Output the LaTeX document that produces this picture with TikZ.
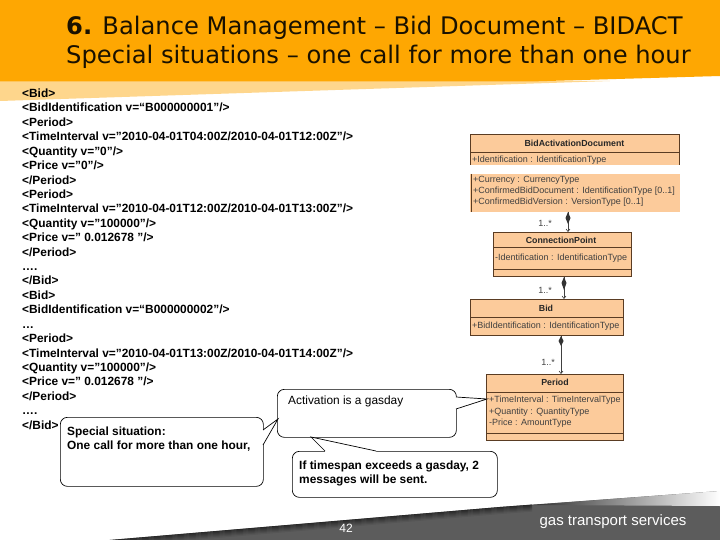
\documentclass[tikz,border=0pt]{standalone}
\usepackage{fontspec}
\usetikzlibrary{arrows.meta}
\setmainfont{Liberation Sans}
\newfontfamily\titlefont{DejaVu Sans}
\definecolor{umlfill}{RGB}{252,203,155}
\definecolor{umlline}{RGB}{90,60,35}
\definecolor{hdr}{RGB}{254,167,2}
\definecolor{hdrlight}{RGB}{254,214,140}
\definecolor{foot}{RGB}{92,92,92}
\tikzset{
  code/.style={anchor=west,inner sep=0pt,font=\fontsize{11.9}{13}\selectfont\bfseries,text=black},
  callout/.style={draw=black,line width=.7pt,fill=white,rounded corners=7pt},
  tailfill/.style={fill=white,draw=none},
  tailline/.style={draw=black,line width=.7pt},
  calltext/.style={anchor=west,inner sep=0pt,font=\fontsize{11.9}{14}\selectfont},
  boldtext/.style={calltext,font=\fontsize{11.9}{14}\selectfont\bfseries},
  umlbox/.style={draw=umlline,fill=umlfill,line width=.6pt,inner sep=0pt,anchor=north west},
  umlsep/.style={draw=umlline,line width=.6pt},
  umltitle/.style={inner sep=0pt,font=\fontsize{8.8}{10}\selectfont\bfseries,text=black!85},
  umlattr/.style={anchor=west,inner sep=0pt,font=\fontsize{9}{10}\selectfont,text=black!75},
  mult/.style={inner sep=0pt,font=\fontsize{9}{10}\selectfont,text=black!75},
  link/.style={draw=black!75,line width=.6pt,-{Straight Barb[length=2.5pt,width=4pt]}},
  diam/.style={fill=black!80,draw=none},
  hdrtext/.style={anchor=west,inner sep=0pt,font=\titlefont\fontsize{24.2}{28}\selectfont,text=black!90!hdr},
}
\begin{document}
\begin{tikzpicture}[x=1pt,y=-1pt]
\useasboundingbox (0,0) rectangle (720,540);
\fill[white] (0,0) rectangle (720,540);
% header
\fill[hdrlight] (0,81) -- (610,81) -- (0,101) -- cycle;
\fill[hdr] (0,0) -- (720,0) -- (720,76) -- (530,81.5) -- (0,81.5) -- cycle;
\node[hdrtext] (t1) at (66,28) {\textbf{6.} Balance Management – Bid Document – BIDACT};
\node[hdrtext] (t2) at (66,57) {Special situations – one call for more than one hour};
% footer
\fill[foot] (110,540) -- (300,524) -- (500,507) -- (720,491) -- (720,540) -- cycle;
\shade[left color=black!50!foot,right color=white] (530,505) -- (720,491) -- (720,506) -- cycle;
\begin{scope}
\clip (0,490) rectangle (720,540);
\foreach \o/\k in {0.5/55,1.5/48,2.5/40,3.5/32,4.5/24,5.5/16,6.5/8}
  {\draw[draw=black!\k!foot,line width=1.05pt] (98,{541+\o}) -- (500,{507+\o}) -- (532,{504.6+\o});}
\end{scope}
\node[inner sep=0pt,font=\fontsize{12}{14}\selectfont,text=white] (pg) at (346,528) {42};
\node[inner sep=0pt,font=\fontsize{15}{17}\selectfont,text=white] (logo) at (613,522) {gas transport services};
% code
\foreach \i/\txt in {
 0/{<Bid>},
 1/{<BidIdentification v=“B000000001”/>},
 2/{<Period>},
 3/{<TimeInterval v=”2010-04-01T04:00Z/2010-04-01T12:00Z”/>},
 4/{<Quantity v=”0”/>},
 5/{<Price v=”0”/>},
 6/{</Period>},
 7/{<Period>},
 8/{<TimeInterval v=”2010-04-01T12:00Z/2010-04-01T13:00Z”/>},
 9/{<Quantity v=”100000”/>},
 10/{<Price v=” 0.012678 ”/>},
 11/{</Period>},
 12/{….},
 13/{</Bid>},
 14/{<Bid>},
 15/{<BidIdentification v=“B000000002”/>},
 16/{…},
 17/{<Period>},
 18/{<TimeInterval v=”2010-04-01T13:00Z/2010-04-01T14:00Z”/>},
 19/{<Quantity v=”100000”/>},
 20/{<Price v=” 0.012678 ”/>},
 21/{</Period>},
 22/{….},
 23/{</Bid>}}
 {\node[code,anchor=base west] (c\i) at (22,{97.5+\i*14.42}) {\txt};}
% uml
\fill[umlfill] (470,134) rectangle (679,165);
\draw[umlline,line width=.6pt] (470,165) -- (470,134) -- (679,134) -- (679,165) (470,152) -- (679,152);
\node[umltitle] (bt) at (574.5,143) {BidActivationDocument};
\node[umlattr] (ba) at (472,160) {+Identification : IdentificationType};
\fill[umlfill] (470,174) rectangle (680,212);
\draw[umlline,line width=.6pt] (471,174) -- (471,212);
\node[umlattr] (a1) at (473,180) {+Currency : CurrencyType};
\node[umlattr] (a2) at (473,191) {+ConfirmedBidDocument : IdentificationType [0..1]};
\node[umlattr] (a3) at (473,202) {+ConfirmedBidVersion : VersionType [0..1]};
\node[umlbox,minimum width=138pt,minimum height=44pt] (cp) at (493,232) {};
\draw[umlsep] (493,247) -- (631,247) (493,269) -- (631,269);
\node[umltitle] (cpt) at (561,240) {ConnectionPoint};
\node[umlattr] (cpa) at (495,258) {-Identification : IdentificationType};
\node[umlbox,minimum width=153pt,minimum height=36pt] (bid) at (470,299) {};
\draw[umlsep] (470,317) -- (623,317);
\node[umltitle] (bidt) at (546,308) {Bid};
\node[umlattr] (bida) at (472,326) {+BidIdentification : IdentificationType};
\node[umlbox,minimum width=137pt,minimum height=66pt] (per) at (486,374) {};
\draw[umlsep] (486,392) -- (623,392) (486,433) -- (623,433);
\node[umltitle] (pert) at (555,382.5) {Period};
\node[umlattr] (pa) at (489,400) {+TimeInterval : TimeIntervalType};
\node[umlattr] (pb) at (489,412) {+Quantity : QuantityType};
\node[umlattr] (pc) at (489,423) {-Price : AmountType};
% links
\coordinate (d1) at (568,212);
\draw[link] (d1) -- (cp.north -| d1);
\fill[diam] (568,212) -- (570.5,218) -- (568,224) -- (565.5,218) -- cycle;
\coordinate (d2) at (564,277);
\draw[link] (d2) -- (bid.north -| d2);
\fill[diam] (564,277) -- (566.5,283) -- (564,290) -- (561.5,283) -- cycle;
\coordinate (d3) at (561,336);
\draw[link] (d3) -- (per.north -| d3);
\fill[diam] (561,336) -- (563.5,341) -- (561,346) -- (558.5,341) -- cycle;
\node[mult] (m1) at (545,223) {1..*};
\node[mult] (m2) at (545,290) {1..*};
\node[mult] (m3) at (548,362) {1..*};
% callouts
\node[callout,minimum width=179pt,minimum height=48pt,inner sep=0pt,anchor=north west] (actbox) at (277,389) {};
\coordinate (acttip) at (487,399);
\fill[tailfill] (456,397) -- (acttip) -- (456,409) -- (452,409) -- (452,397) -- cycle;
\draw[tailline] (456,397) -- (acttip) -- (456,409);
\node[calltext] (act) at (288,401) {Activation is a gasday};
\node[callout,minimum width=203pt,minimum height=69pt,inner sep=0pt,anchor=north west] (spbox) at (60,417) {};
\coordinate (sptip) at (278,419);
\fill[tailfill] (263,430) -- (sptip) -- (263,445) -- (259,445) -- (259,430) -- cycle;
\draw[tailline] (263,430) -- (sptip) -- (263,445);
\node[boldtext] (sp1) at (67,432) {Special situation:};
\node[boldtext] (sp2) at (67,446) {One call for more than one hour,};
\node[callout,minimum width=205pt,minimum height=46pt,inner sep=0pt,anchor=north west] (tsbox) at (292,451) {};
\coordinate (tstip) at (311,437);
\fill[tailfill] (325,451) -- (tstip) -- (376,451) -- (376,455) -- (325,455) -- cycle;
\draw[tailline] (325,451) -- (tstip) -- (376,451);
\node[boldtext] (ts1) at (299,466) {If timespan exceeds a gasday, 2};
\node[boldtext] (ts2) at (299,480) {messages will be sent.};
\end{tikzpicture}
\end{document}
